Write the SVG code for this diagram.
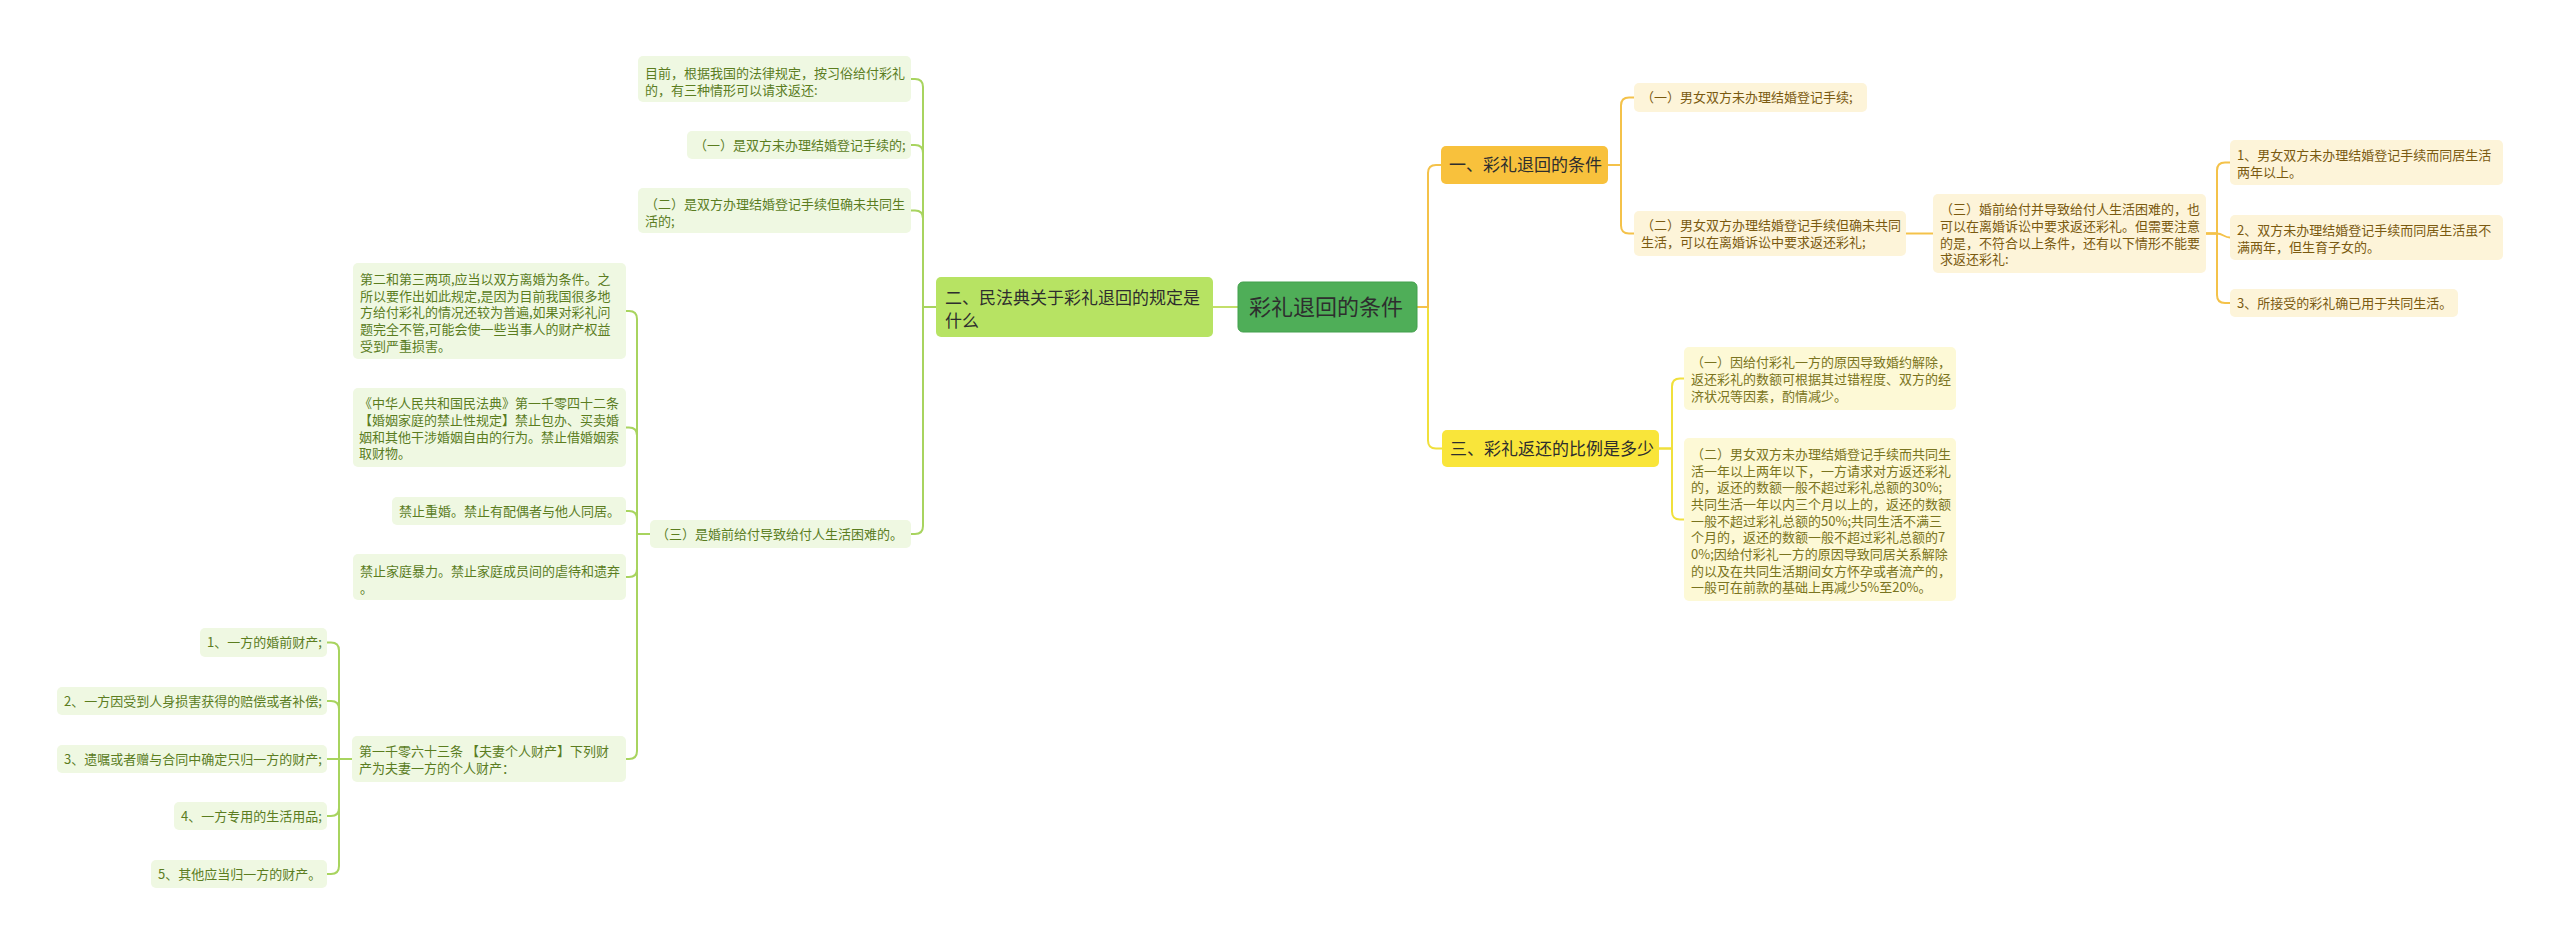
<svg xmlns="http://www.w3.org/2000/svg" width="2560" height="945" viewBox="0 0 2560 945">
<style>
text{font-family:"Microsoft YaHei","Noto Sans CJK SC","Noto Sans",sans-serif;}
.t13{font-size:13px;}
.t17{font-size:17px;}
.t22{font-size:22px;}
.gl{fill:#eff8e2;}
.gt{fill:#5b7d1f;}
.ol{fill:#fdf4d9;}
.ot{fill:#7a5a10;}
.yl{fill:#fdf9d6;}
.yt{fill:#7a7420;}
.dk{fill:#2e2e2e;}
.cg{fill:none;stroke:#a8d45f;stroke-width:2;}
.co{fill:none;stroke:#f4c24a;stroke-width:2;}
.cy{fill:none;stroke:#f0e03c;stroke-width:2;}
.cr{fill:none;stroke:#c3df6a;stroke-width:2;}
</style>
<rect width="2560" height="945" fill="#ffffff"/>
<g id="connectors">
<path class="cr" d="M1238,307 H1213"/>
<path class="cg" d="M936,307 H923 V87 Q923,79 915,79 H911"/>
<path class="cg" d="M936,307 H923 V153 Q923,145 915,145 H911"/>
<path class="cg" d="M936,307 H923 V218.5 Q923,210.5 915,210.5 H911"/>
<path class="cg" d="M936,307 H923 V526 Q923,534 915,534 H911"/>
<path class="cg" d="M650,534 H637 V319 Q637,311 629,311 H626"/>
<path class="cg" d="M650,534 H637 V435.5 Q637,427.5 629,427.5 H626"/>
<path class="cg" d="M650,534 H637 V519 Q637,511 629,511 H626"/>
<path class="cg" d="M650,534 H637 V569 Q637,577 629,577 H626"/>
<path class="cg" d="M650,534 H637 V751 Q637,759 629,759 H626"/>
<path class="cg" d="M352,759 H339 V650.5 Q339,642.5 331,642.5 H327"/>
<path class="cg" d="M352,759 H339 V709 Q339,701 331,701 H327"/>
<path class="cg" d="M352,759 H327"/>
<path class="cg" d="M352,759 H339 V808 Q339,816 331,816 H327"/>
<path class="cg" d="M352,759 H339 V866 Q339,874 331,874 H327"/>
<path class="cy" d="M1417,307 H1428 V440.5 Q1428,448.5 1436,448.5 H1442"/>
<path class="co" d="M1417,307 H1428 V173 Q1428,165 1436,165 H1441"/>
<path class="co" d="M1608,165 H1621 V105.5 Q1621,97.5 1629,97.5 H1634"/>
<path class="co" d="M1608,165 H1621 V225.5 Q1621,233.5 1629,233.5 H1634"/>
<path class="co" d="M1906,233.5 H1933"/>
<path class="co" d="M2206,233.5 H2217 V170.5 Q2217,162.5 2225,162.5 H2230"/>
<path class="co" d="M2206,233.5 H2217 C2223,233.5 2224,237.5 2230,237.5"/>
<path class="co" d="M2206,233.5 H2217 V295 Q2217,303 2225,303 H2230"/>
<path class="cy" d="M1659,448.5 H1672 V386.5 Q1672,378.5 1680,378.5 H1684"/>
<path class="cy" d="M1659,448.5 H1672 V511.5 Q1672,519.5 1680,519.5 H1684"/>
</g>
<g id="root">
<rect x="1238" y="282" width="179" height="50" rx="5" fill="#4fae58" stroke="#43a04c" stroke-width="1"/>
<text class="t22 dk" x="1249" y="315">彩礼退回的条件</text>
</g>
<g id="branch2">
<rect x="936" y="277" width="277" height="60" rx="5" fill="#b7e363"/>
<text class="t17 dk" x="945" y="303.5">二、民法典关于彩礼退回的规定是</text>
<text class="t17 dk" x="945" y="326.5">什么</text>
</g>
<g id="n2a">
<rect class="gl" x="638" y="56" width="273" height="46" rx="5"/>
<text class="t13 gt" x="645" y="78">目前，根据我国的法律规定，按习俗给付彩礼</text>
<text class="t13 gt" x="645" y="95">的，有三种情形可以请求返还:</text>
</g>
<g id="n2b">
<rect class="gl" x="687" y="131" width="224" height="28" rx="5"/>
<text class="t13 gt" x="694" y="150">（一）是双方未办理结婚登记手续的;</text>
</g>
<g id="n2c">
<rect class="gl" x="638" y="188" width="273" height="45" rx="5"/>
<text class="t13 gt" x="645" y="209">（二）是双方办理结婚登记手续但确未共同生</text>
<text class="t13 gt" x="645" y="226">活的;</text>
</g>
<g id="n2d">
<rect class="gl" x="650" y="520" width="261" height="28" rx="5"/>
<text class="t13 gt" x="656" y="539">（三）是婚前给付导致给付人生活困难的。</text>
</g>
<g id="n3a">
<rect class="gl" x="353" y="263" width="273" height="96" rx="5"/>
<text class="t13 gt" x="360" y="284">第二和第三两项,应当以双方离婚为条件。之</text>
<text class="t13 gt" x="360" y="301">所以要作出如此规定,是因为目前我国很多地</text>
<text class="t13 gt" x="360" y="317">方给付彩礼的情况还较为普遍,如果对彩礼问</text>
<text class="t13 gt" x="360" y="334">题完全不管,可能会使一些当事人的财产权益</text>
<text class="t13 gt" x="360" y="351">受到严重损害。</text>
</g>
<g id="n3b">
<rect class="gl" x="353" y="388" width="273" height="79" rx="5"/>
<text class="t13 gt" x="359" y="408">《中华人民共和国民法典》第一千零四十二条</text>
<text class="t13 gt" x="359" y="425">【婚姻家庭的禁止性规定】禁止包办、买卖婚</text>
<text class="t13 gt" x="359" y="442">姻和其他干涉婚姻自由的行为。禁止借婚姻索</text>
<text class="t13 gt" x="359" y="458">取财物。</text>
</g>
<g id="n3c">
<rect class="gl" x="392" y="497" width="234" height="28" rx="5"/>
<text class="t13 gt" x="399" y="516">禁止重婚。禁止有配偶者与他人同居。</text>
</g>
<g id="n3d">
<rect class="gl" x="353" y="554" width="273" height="46" rx="5"/>
<text class="t13 gt" x="360" y="576">禁止家庭暴力。禁止家庭成员间的虐待和遗弃</text>
<text class="t13 gt" x="360" y="593">。</text>
</g>
<g id="n3e">
<rect class="gl" x="352" y="736" width="274" height="46" rx="5"/>
<text class="t13 gt" x="359" y="756">第一千零六十三条 【夫妻个人财产】下列财</text>
<text class="t13 gt" x="359" y="773">产为夫妻一方的个人财产：</text>
</g>
<g id="n4a">
<rect class="gl" x="200" y="628" width="127" height="29" rx="5"/>
<text class="t13 gt" x="207" y="647">1、一方的婚前财产;</text>
</g>
<g id="n4b">
<rect class="gl" x="57" y="687" width="270" height="28" rx="5"/>
<text class="t13 gt" x="64" y="706">2、一方因受到人身损害获得的赔偿或者补偿;</text>
</g>
<g id="n4c">
<rect class="gl" x="57" y="745" width="270" height="28" rx="5"/>
<text class="t13 gt" x="64" y="764">3、遗嘱或者赠与合同中确定只归一方的财产;</text>
</g>
<g id="n4d">
<rect class="gl" x="174" y="802" width="153" height="28" rx="5"/>
<text class="t13 gt" x="181" y="821">4、一方专用的生活用品;</text>
</g>
<g id="n4e">
<rect class="gl" x="151" y="860" width="176" height="28" rx="5"/>
<text class="t13 gt" x="158" y="879">5、其他应当归一方的财产。</text>
</g>
<g id="branch1">
<rect x="1441" y="146" width="167" height="38" rx="5" fill="#f8c13c"/>
<text class="t17 dk" x="1449" y="171">一、彩礼退回的条件</text>
</g>
<g id="n1a">
<rect class="ol" x="1634" y="83" width="233" height="29" rx="5"/>
<text class="t13 ot" x="1641" y="102">（一）男女双方未办理结婚登记手续;</text>
</g>
<g id="n1b">
<rect class="ol" x="1634" y="211" width="272" height="45" rx="5"/>
<text class="t13 ot" x="1641" y="230">（二）男女双方办理结婚登记手续但确未共同</text>
<text class="t13 ot" x="1641" y="247">生活，可以在离婚诉讼中要求返还彩礼;</text>
</g>
<g id="n1c">
<rect class="ol" x="1933" y="194" width="273" height="79" rx="5"/>
<text class="t13 ot" x="1940" y="214">（三）婚前给付并导致给付人生活困难的，也</text>
<text class="t13 ot" x="1940" y="231">可以在离婚诉讼中要求返还彩礼。但需要注意</text>
<text class="t13 ot" x="1940" y="248">的是，不符合以上条件，还有以下情形不能要</text>
<text class="t13 ot" x="1940" y="264">求返还彩礼:</text>
</g>
<g id="n1c1">
<rect class="ol" x="2230" y="140" width="273" height="45" rx="5"/>
<text class="t13 ot" x="2237" y="160">1、男女双方未办理结婚登记手续而同居生活</text>
<text class="t13 ot" x="2237" y="177">两年以上。</text>
</g>
<g id="n1c2">
<rect class="ol" x="2230" y="215" width="273" height="45" rx="5"/>
<text class="t13 ot" x="2237" y="235">2、双方未办理结婚登记手续而同居生活虽不</text>
<text class="t13 ot" x="2237" y="252">满两年，但生育子女的。</text>
</g>
<g id="n1c3">
<rect class="ol" x="2230" y="289" width="228" height="28" rx="5"/>
<text class="t13 ot" x="2237" y="308">3、所接受的彩礼确已用于共同生活。</text>
</g>
<g id="branch3">
<rect x="1442" y="430" width="217" height="37" rx="5" fill="#f9e53a"/>
<text class="t17 dk" x="1450" y="455">三、彩礼返还的比例是多少</text>
</g>
<g id="n5a">
<rect class="yl" x="1684" y="347" width="272" height="63" rx="5"/>
<text class="t13 yt" x="1691" y="367">（一）因给付彩礼一方的原因导致婚约解除，</text>
<text class="t13 yt" x="1691" y="384">返还彩礼的数额可根据其过错程度、双方的经</text>
<text class="t13 yt" x="1691" y="401">济状况等因素，酌情减少。</text>
</g>
<g id="n5b">
<rect class="yl" x="1684" y="438" width="272" height="163" rx="5"/>
<text class="t13 yt" x="1691" y="459">（二）男女双方未办理结婚登记手续而共同生</text>
<text class="t13 yt" x="1691" y="476">活一年以上两年以下，一方请求对方返还彩礼</text>
<text class="t13 yt" x="1691" y="492">的，返还的数额一般不超过彩礼总额的30%;</text>
<text class="t13 yt" x="1691" y="509">共同生活一年以内三个月以上的，返还的数额</text>
<text class="t13 yt" x="1691" y="526">一般不超过彩礼总额的50%;共同生活不满三</text>
<text class="t13 yt" x="1691" y="542">个月的，返还的数额一般不超过彩礼总额的7</text>
<text class="t13 yt" x="1691" y="559">0%;因给付彩礼一方的原因导致同居关系解除</text>
<text class="t13 yt" x="1691" y="576">的以及在共同生活期间女方怀孕或者流产的，</text>
<text class="t13 yt" x="1691" y="592">一般可在前款的基础上再减少5%至20%。</text>
</g>
</svg>
